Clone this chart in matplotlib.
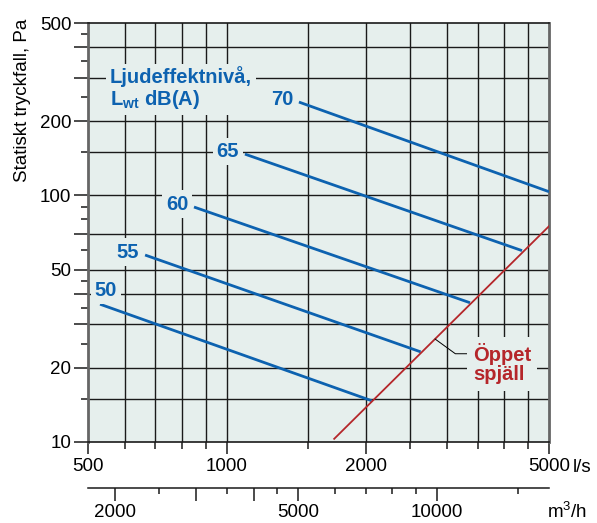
import numpy as np
import matplotlib.pyplot as plt
from matplotlib.ticker import FixedLocator, FixedFormatter, NullFormatter

plt.rcParams['font.family'] = ['Liberation Sans', 'DejaVu Sans']
plt.rcParams['mathtext.fontset'] = 'custom'
plt.rcParams['mathtext.rm'] = 'Liberation Sans'
plt.rcParams['mathtext.bf'] = 'Liberation Sans:bold'

# sound power level lines L_wt dB(A): end points, flow (l/s) and static pressure (Pa)
levels = [50, 55, 60, 65, 70]
level_flow = [[531, 2062], [665, 2634], [849, 3370], [1095, 4370], [1434, 5000]]
level_pressure = [[36.2, 14.7], [57.3, 23.2], [89.7, 36.7], [147, 59.7], [239, 103.5]]

# open damper curve
damper_flow = [1710, 5000]
damper_pressure = [10.3, 75]

x_major = [500, 1000, 2000, 5000]
x_minor = [600, 700, 800, 900, 1500, 2500, 3000, 3500, 4000, 4500]
y_major = [10, 20, 30, 40, 50, 70, 100, 200, 300, 400, 500]
y_labels = ['10', '20', '', '', '50', '', '100', '200', '', '', '500']
y_minor = [15, 25, 35, 45, 60, 80, 90, 150, 250, 350, 450]
x_grid = [600, 700, 800, 900, 1000, 1500, 2000, 2500, 3000, 3500, 4000, 4500]
y_grid = [15, 20, 30, 40, 50, 70, 100, 150, 200, 300, 400]

m3h_major = [2000, 3000, 4000, 5000, 10000]
m3h_labels = ['2000', '', '', '5000', '10000']
m3h_minor = [2500, 3500, 4500, 6000, 7000, 8000, 9000, 15000]
M3H_PER_LS = 3.5  # as drawn on the original scale

BG = '#e6efed'
BLUE = '#0d62b0'
RED = '#b5262a'

fig = plt.figure(figsize=(5.97, 5.23), dpi=100)
ax = fig.add_axes([88 / 597, 1 - 442 / 523, 461 / 597, 419 / 523])
ax.set_facecolor(BG)
ax.set_xscale('log')
ax.set_yscale('log')
ax.set_xlim(500, 5000)
ax.set_ylim(10, 500)

for gx in x_grid:
    ax.axvline(gx, color='#1a1a1a', lw=1.0, zorder=1)
for gy in y_grid:
    ax.axhline(gy, color='#1a1a1a', lw=1.0, zorder=1)

ax.xaxis.set_major_locator(FixedLocator(x_major))
ax.xaxis.set_major_formatter(FixedFormatter([str(v) for v in x_major]))
ax.xaxis.set_minor_locator(FixedLocator(x_minor))
ax.xaxis.set_minor_formatter(NullFormatter())
ax.yaxis.set_major_locator(FixedLocator(y_major))
ax.yaxis.set_major_formatter(FixedFormatter(y_labels))
ax.yaxis.set_minor_locator(FixedLocator(y_minor))
ax.yaxis.set_minor_formatter(NullFormatter())

ax.tick_params(axis='both', which='both', direction='out', top=False, right=False,
               labelsize=13.5, width=1.1, color='#1a1a1a')
ax.tick_params(axis='y', which='major', length=10, pad=2)
ax.tick_params(axis='y', which='minor', length=5)
ax.tick_params(axis='x', which='major', length=8.5, pad=3)
ax.tick_params(axis='x', which='minor', length=5)

for side in ['left', 'right']:
    ax.spines[side].set_color('#666666')
    ax.spines[side].set_linewidth(2)
for side in ['top', 'bottom']:
    ax.spines[side].set_color('#1a1a1a')
    ax.spines[side].set_linewidth(1.2)

# sound level lines with their labels
for i, lev in enumerate(levels):
    ax.plot(level_flow[i], level_pressure[i], color=BLUE, lw=2, zorder=3,
            solid_capstyle='butt')
    off = (6, 14) if i == 0 else (-17, 3)
    ax.annotate(str(lev), xy=(level_flow[i][0], level_pressure[i][0]),
                xytext=off, textcoords='offset pixels', ha='center', va='center',
                color=BLUE, fontsize=14.5, fontweight='bold', zorder=4,
                bbox=dict(boxstyle='square,pad=0.2', fc=BG, ec='none'))

ax.text(0.047, 0.897, 'Ljudeffektnivå,\nL$_{\\mathbf{wt}}$ dB(A)', transform=ax.transAxes,
        ha='left', va='top', color=BLUE, fontsize=14.5, fontweight='bold',
        linespacing=1.05, zorder=4,
        bbox=dict(boxstyle='square,pad=0.2', fc=BG, ec='none'))

# open damper
ax.plot(damper_flow, damper_pressure, color=RED, lw=1.3, zorder=3)
lead_flow = 2830
lead_p = 10 ** np.interp(np.log10(lead_flow), np.log10(damper_flow), np.log10(damper_pressure))
ax.annotate('Öppet\nspjäll', xy=(lead_flow, lead_p), xytext=(38, -25),
            textcoords='offset pixels', ha='left', va='center', color=RED,
            fontsize=14.5, fontweight='bold', linespacing=1.0, zorder=4,
            bbox=dict(boxstyle='square,pad=0.3', fc=BG, ec='none'),
            arrowprops=dict(arrowstyle='-', color='black', lw=0.7, shrinkA=0, shrinkB=0,
                            relpos=(0, 0.75),
                            connectionstyle='angle,angleA=0,angleB=-36,rad=0'))

ax.annotate('l/s', xy=(1, 0), xycoords='axes fraction', xytext=(24, -25),
            textcoords='offset pixels', ha='left', va='center', fontsize=13.5)

# secondary flow scale in m3/h
sec = ax.secondary_xaxis(-0.109, functions=(lambda f: f * M3H_PER_LS, lambda q: q / M3H_PER_LS))
sec.xaxis.set_major_locator(FixedLocator(m3h_major))
sec.xaxis.set_major_formatter(FixedFormatter(m3h_labels))
sec.xaxis.set_minor_locator(FixedLocator(m3h_minor))
sec.xaxis.set_minor_formatter(NullFormatter())
sec.tick_params(axis='x', which='both', direction='out', labelsize=13.5, width=1.1,
                color='#1a1a1a')
sec.tick_params(axis='x', which='major', length=9, pad=3)
sec.tick_params(axis='x', which='minor', length=4.5)
sec.spines['bottom'].set_linewidth(1.1)
sec.spines['bottom'].set_color('#1a1a1a')

ax.annotate('m$^3$/h', xy=(1, 0), xycoords='axes fraction', xytext=(-2, -70),
            textcoords='offset pixels', ha='left', va='center', fontsize=13.5)

fig.text(23 / 597, 1 - 100 / 523, 'Statiskt tryckfall, Pa', rotation=90,
         ha='center', va='center', fontsize=13.5)

fig.savefig('out.png', dpi=100, facecolor='white')
